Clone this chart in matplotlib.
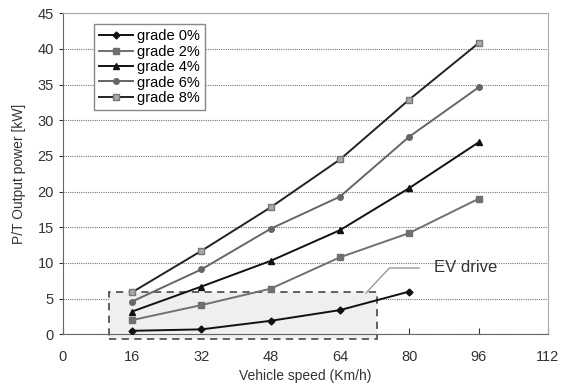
import matplotlib.pyplot as plt
from matplotlib.patches import Rectangle

plt.rcParams['font.family'] = ['Liberation Sans Narrow', 'Liberation Sans', 'DejaVu Sans']

speed = [16, 32, 48, 64, 80, 96]
grade0 = [0.5, 0.7, 1.9, 3.4, 6.0]
grade2 = [2.0, 4.1, 6.4, 10.8, 14.2, 19.0]
grade4 = [3.2, 6.7, 10.3, 14.6, 20.5, 26.9]
grade6 = [4.6, 9.1, 14.8, 19.3, 27.7, 34.6]
grade8 = [5.9, 11.7, 17.8, 24.5, 32.9, 40.8]

fig = plt.figure(figsize=(5.66, 3.87), dpi=100)
ax = fig.add_axes([0.111, 0.136, 0.857, 0.830])

# EV drive region
ax.add_patch(Rectangle((10.7, -0.7), 61.9, 6.7, facecolor='#efefef', edgecolor='#555555',
                       linestyle=(0, (4, 3)), linewidth=1.3, clip_on=False, zorder=1))

ax.plot(speed[:5], grade0, color='#111111', marker='D', markersize=3.5, lw=1.4, label='grade 0%', zorder=3)
ax.plot(speed, grade2, color='#707070', marker='s', markersize=4, lw=1.4, label='grade 2%', zorder=3)
ax.plot(speed, grade4, color='#111111', marker='^', markersize=5, lw=1.4, label='grade 4%', zorder=3)
ax.plot(speed, grade6, color='#666666', marker='o', markersize=4, lw=1.4, label='grade 6%', zorder=3)
ax.plot(speed, grade8, color='#222222', marker='s', markersize=5, lw=1.4,
        markerfacecolor='#aaaaaa', markeredgecolor='#777777', label='grade 8%', zorder=3)

ax.set_xlim(0, 112)
ax.set_ylim(0, 45)
ax.set_xticks(range(0, 113, 16))
ax.set_yticks(range(0, 46, 5))
ax.yaxis.grid(True, linestyle=(0, (1, 1)), color='#777777', linewidth=0.8)
ax.set_axisbelow(True)
for s in ax.spines.values():
    s.set_color('#aaaaaa')
ax.spines['left'].set_color('#666666')
ax.spines['bottom'].set_color('#666666')
ax.tick_params(axis='x', direction='in', length=4, pad=11, labelsize=10.5, colors='#333333')
ax.tick_params(axis='y', direction='out', length=3, labelsize=10.5, colors='#333333')
ax.tick_params(top=False, right=False)

ax.set_xlabel('Vehicle speed (Km/h)', fontsize=10, color='#333333', labelpad=4)
ax.set_ylabel('P/T Output power [kW]', fontsize=10, color='#333333', labelpad=8)

leg = ax.legend(loc='upper left', bbox_to_anchor=(0.065, 0.966), borderaxespad=0, fontsize=10.5,
                handlelength=2.3, handletextpad=0.3, labelspacing=0.1, borderpad=0.35,
                fancybox=False, framealpha=1, edgecolor='#888888')
leg.get_frame().set_linewidth(1.0)

# EV drive annotation
ax.plot([70, 75.4, 82.3], [5.8, 9.3, 9.3], color='#999999', lw=1, zorder=2)
ax.text(85.8, 9.3, 'EV drive', fontsize=12, color='#333333', va='center', ha='left')

fig.savefig('out.png', dpi=100)
